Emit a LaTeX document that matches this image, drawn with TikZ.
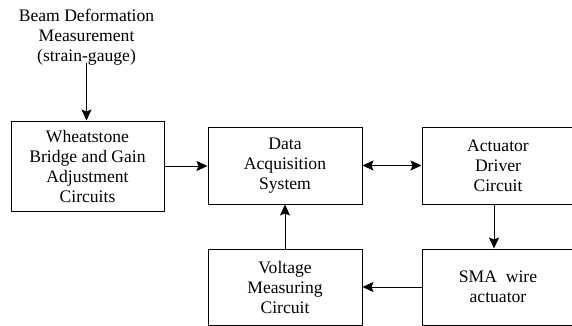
\documentclass[tikz,border=0pt]{standalone}
\usepackage{fontspec}
\setmainfont{Liberation Serif}
\usetikzlibrary{arrows.meta}
\begin{document}
\begin{tikzpicture}[x=1pt,y=-1pt,
  blockbox/.style={draw=black, line width=1pt, rectangle, inner sep=0pt, align=center,
    font=\fontsize{17.6}{20}\selectfont},
  plaintext/.style={inner sep=0pt, align=center, font=\fontsize{17.6}{20}\selectfont},
  tip/.tip={Stealth[length=11pt,width=10pt,inset=2pt]},
  conn/.style={line width=1pt, -tip},
  dconn/.style={line width=1pt, tip-tip}]
\clip (0,0) rectangle (572,326);
\node[plaintext] (beam) at (86.5,37) {Beam Deformation\\Measurement\\(strain-gauge)};
\node[blockbox, minimum width=153pt, minimum height=90pt] (wheat) at (87.5,166)
  {Wheatstone\\Bridge and Gain\\Adjustment\\Circuits};
\node[blockbox, minimum width=154pt, minimum height=77pt] (daq) at (285,165.5)
  {Data\\Acquisition\\System};
\node[blockbox, minimum width=152pt, minimum height=77pt] (act) at (498,165.5)
  {Actuator\\Driver\\Circuit};
\node[blockbox, minimum width=154pt, minimum height=76pt] (volt) at (285,287)
  {Voltage\\Measuring\\Circuit};
\node[blockbox, minimum width=152pt, minimum height=76pt] (sma) at (498,287)
  {SMA\ \ wire\\actuator};
\draw[conn] ([yshift=2pt]beam.south) -- (beam.south |- wheat.north);
\draw[conn] (wheat.east) -- (wheat.east -| daq.west);
\draw[dconn] (daq.east) -- (act.west);
\draw[conn] ([xshift=-4pt]act.south) -- ([xshift=-4pt]act.south |- sma.north);
\draw[conn] (volt.north) -- (daq.south);
\draw[conn] (sma.west) -- (volt.east);
\end{tikzpicture}
\end{document}
